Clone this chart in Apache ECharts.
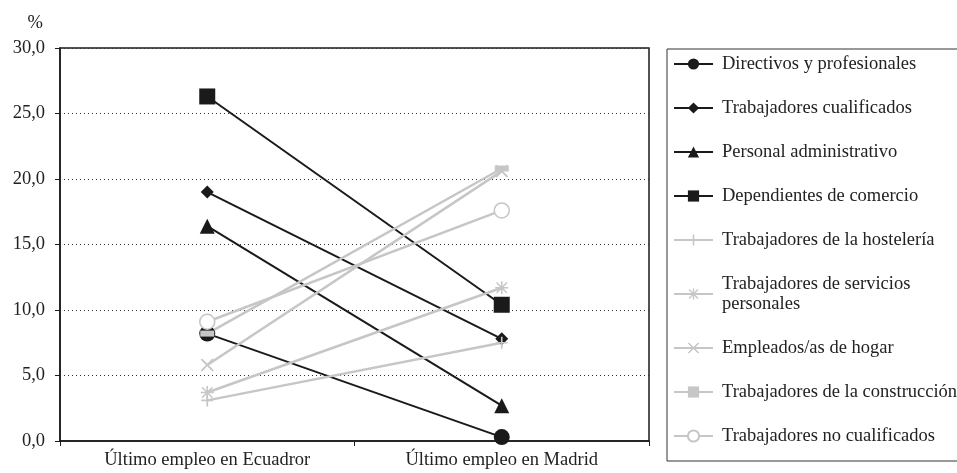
<!DOCTYPE html>
<html>
<head>
<meta charset="utf-8">
<script src="https://cdn.jsdelivr.net/npm/echarts@6/dist/echarts.min.js"></script>
<style>html,body{margin:0;padding:0;background:#fff}#c{width:957px;height:473px}</style>
</head>
<body>
<div id="c"></div>
<script>
const categories = ['Último empleo en Ecuadror', 'Último empleo en Madrid'];
const seriesNames = [
  'Directivos y profesionales',
  'Trabajadores cualificados',
  'Personal administrativo',
  'Dependientes de comercio',
  'Trabajadores de la hostelería',
  'Trabajadores de servicios personales',
  'Empleados/as de hogar',
  'Trabajadores de la construcción',
  'Trabajadores no cualificados'
];
const directivos = [8.2, 0.3];
const cualificados = [19.0, 7.8];
const administrativo = [16.4, 2.7];
const dependientes = [26.3, 10.4];
const hosteleria = [3.1, 7.5];
const servicios = [3.7, 11.7];
const hogar = [5.8, 20.6];
const construccion = [8.2, 20.8];
const noCualificados = [9.1, 17.6];
const yTicks = [0, 5, 10, 15, 20, 25, 30];

const BLACK = '#1a1a1a';
const GRAY = '#c6c6c6';
const FONT = 'Liberation Serif';
const FS = 18.5;

const plusPath = 'path://M0,4.3 L10,4.3 L10,5.7 L0,5.7 Z M4.3,0 L5.7,0 L5.7,10 L4.3,10 Z';
const crossPath = 'path://M1,0 L5,4 L9,0 L10,1 L6,5 L10,9 L9,10 L5,6 L1,10 L0,9 L4,5 L0,1 Z';
const starPath = 'path://M0,4.4 L10,4.4 L10,5.6 L0,5.6 Z M4.4,0 L5.6,0 L5.6,10 L4.4,10 Z M1.4,0.6 L5,4.2 L8.6,0.6 L9.4,1.4 L5.8,5 L9.4,8.6 L8.6,9.4 L5,5.8 L1.4,9.4 L0.6,8.6 L4.2,5 L0.6,1.4 Z';

function mk(name, data, color, symbol, size, extra) {
  return Object.assign({
    name: name,
    type: 'line',
    data: data,
    symbol: symbol,
    symbolSize: size,
    symbolKeepAspect: true,
    showAllSymbol: true,
    lineStyle: { color: color, width: 2 },
    itemStyle: { color: color },
    emphasis: { disabled: true },
    animation: false,
    z: 3
  }, extra || {});
}

const series = [
  mk(seriesNames[0], directivos, BLACK, 'circle', 16),
  mk(seriesNames[1], cualificados, BLACK, 'diamond', 13),
  mk(seriesNames[2], administrativo, BLACK, 'triangle', 15),
  mk(seriesNames[3], dependientes, BLACK, 'rect', 16),
  mk(seriesNames[4], hosteleria, GRAY, plusPath, 12, { lineStyle: { color: GRAY, width: 2.5 } }),
  mk(seriesNames[5], servicios, GRAY, starPath, 13, { lineStyle: { color: GRAY, width: 2.5 } }),
  mk(seriesNames[6], hogar, GRAY, crossPath, 13, { lineStyle: { color: GRAY, width: 2.5 } }),
  mk(seriesNames[7], construccion, GRAY, 'rect', [14, 6], { lineStyle: { color: GRAY, width: 2.5 } }),
  mk(seriesNames[8], noCualificados, GRAY, 'circle', 15, {
    lineStyle: { color: GRAY, width: 2.5 },
    itemStyle: { color: '#ffffff', borderColor: GRAY, borderWidth: 1.5 }
  })
];

const chart = echarts.init(document.getElementById('c'), null, { renderer: 'canvas' });
chart.setOption({
  backgroundColor: '#ffffff',
  animation: false,
  textStyle: { fontFamily: FONT },
  grid: {
    left: 60, right: 308, top: 48, bottom: 32,
    show: true, borderColor: BLACK, borderWidth: 1.5, backgroundColor: 'transparent'
  },
  legend: {
    orient: 'vertical',
    left: 667,
    top: 49,
    padding: [5, 60, 15, 6],
    borderColor: '#333',
    borderWidth: 1,
    itemGap: 24,
    itemWidth: 39,
    itemHeight: 14,
    selectedMode: false,
    textStyle: { fontFamily: FONT, fontSize: FS, color: '#222', lineHeight: 20, padding: [0, 0, 0, 4] },
    formatter: function (n) {
      return n === 'Trabajadores de servicios personales' ? 'Trabajadores de servicios\npersonales' : n;
    },
    data: seriesNames
  },
  xAxis: {
    type: 'category',
    data: categories,
    boundaryGap: true,
    axisLine: { lineStyle: { color: BLACK, width: 1.5 } },
    axisTick: { show: true, length: 5, lineStyle: { color: BLACK } },
    axisLabel: { color: '#222', fontFamily: FONT, fontSize: FS, margin: 10 },
    splitLine: { show: false }
  },
  yAxis: {
    type: 'value',
    min: 0, max: 30, interval: 5,
    name: '%',
    nameLocation: 'end',
    nameGap: 15,
    nameTextStyle: { fontFamily: FONT, fontSize: FS, color: '#222', align: 'right', padding: [0, 17, 0, 0] },
    axisLine: { show: true, lineStyle: { color: BLACK, width: 1.5 } },
    axisTick: { show: true, length: 5, lineStyle: { color: BLACK } },
    axisLabel: {
      color: '#222', fontFamily: FONT, fontSize: FS, margin: 15,
      formatter: function (v) { return yTicks.indexOf(v) >= 0 ? v.toFixed(1).replace('.', ',') : ''; }
    },
    splitLine: { show: true, lineStyle: { color: '#333', type: [1, 3], width: 1 } }
  },
  series: series
});
</script>
</body>
</html>
